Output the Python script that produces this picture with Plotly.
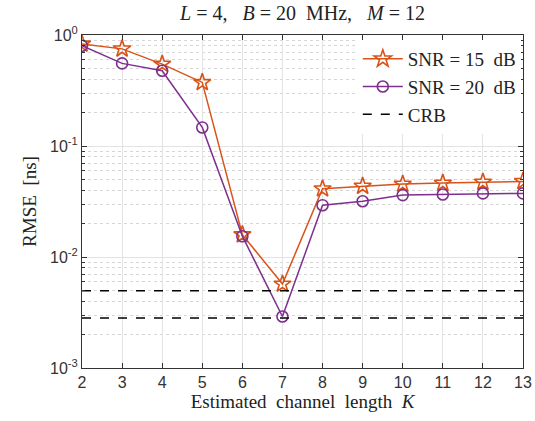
import plotly.graph_objects as go

K = [2, 3, 4, 5, 6, 7, 8, 9, 10, 11, 12, 13]
rmse_snr15 = [0.83, 0.75, 0.547, 0.374, 0.0159, 0.00571, 0.0412, 0.0435, 0.0454, 0.0463, 0.0473, 0.048]
rmse_snr20 = [0.80, 0.555, 0.476, 0.147, 0.0154, 0.00291, 0.0293, 0.0318, 0.0361, 0.0366, 0.0374, 0.0374]
crb_snr15 = 0.00497
crb_snr20 = 0.00282

ytick_vals = [1e-3, 1e-2, 1e-1, 1e0]
ytick_text = ["10<sup>-3</sup>", "10<sup>-2</sup>", "10<sup>-1</sup>", "10<sup>0</sup>"]
ytick_minor = [m * d for d in [1e-3, 1e-2, 1e-1] for m in range(2, 10)]

orange = "#D95319"
purple = "#7E2F8E"
serif = "Liberation Serif, DejaVu Serif, serif"
sans = "Liberation Sans, Arial, sans-serif"
sp = "&nbsp;"

fig = go.Figure()
fig.add_trace(go.Scatter(x=K, y=rmse_snr15, mode="lines+markers", name=f"SNR{sp}={sp}15{sp}{sp}dB",
                         line=dict(color=orange, width=1.5),
                         marker=dict(symbol="star-open", size=13, color=orange, line=dict(width=1.6, color=orange))))
fig.add_trace(go.Scatter(x=K, y=rmse_snr20, mode="lines+markers", name=f"SNR{sp}={sp}20{sp}{sp}dB",
                         line=dict(color=purple, width=1.5),
                         marker=dict(symbol="circle-open", size=11, color=purple, line=dict(width=1.6, color=purple))))
fig.add_trace(go.Scatter(x=[K[0], K[-1]], y=[crb_snr15, crb_snr15], mode="lines", name="CRB",
                         line=dict(color="black", width=1.5, dash="dash")))
fig.add_trace(go.Scatter(x=[K[0], K[-1]], y=[crb_snr20, crb_snr20], mode="lines", name="CRB", showlegend=False,
                         line=dict(color="black", width=1.5, dash="dash")))

title_txt = (f"<i>L</i>{sp}={sp}4,{sp}{sp}{sp}<i>B</i>{sp}={sp}20{sp}{sp}MHz,"
             f"{sp}{sp}{sp}<i>M</i>{sp}={sp}12")

fig.update_layout(
    width=535, height=421,
    margin=dict(l=82, r=12, t=35, b=53),
    paper_bgcolor="white", plot_bgcolor="white",
    title=dict(text=title_txt,
               x=0.5, xanchor="center", xref="paper", y=1, yref="container", yanchor="top", pad=dict(t=6),
               font=dict(family=serif, size=20, color="#222")),
    legend=dict(x=0.995, y=0.985, xanchor="right", yanchor="top", bgcolor="white",
                borderwidth=0, font=dict(family=serif, size=19, color="#222"),
                tracegroupgap=0, itemwidth=40),
    showlegend=True,
)
fig.update_xaxes(range=[2, 13], tickvals=K, ticks="inside", ticklen=5, tickcolor="#333",
                 showline=True, linecolor="#333", linewidth=1, mirror="ticks",
                 showgrid=True, gridcolor="#e3e3e3", gridwidth=1, zeroline=False,
                 ticklabeloverflow="allow", automargin=False,
                 tickfont=dict(family=sans, size=16, color="#333"),
                 title=dict(text=f"Estimated{sp}{sp}channel{sp}{sp}length{sp}{sp}<i>K</i>",
                            font=dict(family=serif, size=19, color="#222"), standoff=2))
fig.update_yaxes(type="log", range=[-3, 0], tickvals=ytick_vals, ticktext=ytick_text,
                 ticks="inside", ticklen=5, tickcolor="#333",
                 showline=True, linecolor="#333", linewidth=1, mirror="ticks",
                 showgrid=True, gridcolor="#e3e3e3", gridwidth=1, zeroline=False,
                 automargin=False,
                 minor=dict(tickvals=ytick_minor, ticks="inside", ticklen=3, tickcolor="#333", showgrid=True,
                            gridcolor="#d6d6d6", griddash="dot", gridwidth=1),
                 tickfont=dict(family=sans, size=16, color="#333"),
                 title=dict(text=f"RMSE{sp}{sp}[ns]", font=dict(family=serif, size=19, color="#222"), standoff=8))

fig.write_html("out.html")
